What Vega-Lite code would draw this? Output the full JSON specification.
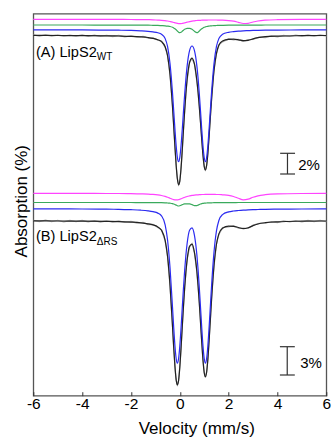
{
"$schema":"https://vega.github.io/schema/vega-lite/v6.json",
"autosize":"none",
"width":293,"height":382,
"padding":{"left":33.3,"top":13.7,"right":6.7,"bottom":42.3},
"background":"white",
"datasets":{
"curves":[
{"p":"A","v":-6,"fit":360.3,"blue":365.9,"green":370.7,"mag":376.4},
{"p":"A","v":-5,"fit":360.2,"blue":365.9,"green":370.7,"mag":376.4},
{"p":"A","v":-4,"fit":360.1,"blue":365.8,"green":370.7,"mag":376.3},
{"p":"A","v":-3,"fit":359.9,"blue":365.6,"green":370.6,"mag":376.3},
{"p":"A","v":-2.5,"fit":359.7,"blue":365.5,"green":370.6,"mag":376.3},
{"p":"A","v":-2,"fit":359.4,"blue":365.3,"green":370.6,"mag":376.2},
{"p":"A","v":-1.6,"fit":358.9,"blue":364.9,"green":370.5,"mag":376.1},
{"p":"A","v":-1.3,"fit":358.2,"blue":364.4,"green":370.5,"mag":376.0},
{"p":"A","v":-1.1,"fit":357.4,"blue":363.8,"green":370.4,"mag":375.9},
{"p":"A","v":-0.9,"fit":356.0,"blue":362.9,"green":370.3,"mag":375.6},
{"p":"A","v":-0.75,"fit":354.1,"blue":361.4,"green":370.1,"mag":375.4},
{"p":"A","v":-0.6,"fit":349.0,"blue":357.1,"green":369.9,"mag":375.0},
{"p":"A","v":-0.5,"fit":339.9,"blue":349.1,"green":369.6,"mag":374.7},
{"p":"A","v":-0.4,"fit":321.1,"blue":332.0,"green":369.2,"mag":374.2},
{"p":"A","v":-0.3,"fit":289.5,"blue":303.1,"green":368.4,"mag":373.6},
{"p":"A","v":-0.25,"fit":269.9,"blue":285.2,"green":367.8,"mag":373.2},
{"p":"A","v":-0.2,"fit":249.5,"blue":266.8,"green":367.0,"mag":372.9},
{"p":"A","v":-0.15,"fit":230.7,"blue":250.2,"green":365.9,"mag":372.6},
{"p":"A","v":-0.1,"fit":216.9,"blue":238.4,"green":364.7,"mag":372.3},
{"p":"A","v":-0.05,"fit":210.9,"blue":234.0,"green":363.5,"mag":372.1},
{"p":"A","v":0,"fit":214.6,"blue":238.1,"green":363.0,"mag":372.0},
{"p":"A","v":0.05,"fit":227.2,"blue":249.7,"green":363.4,"mag":372.1},
{"p":"A","v":0.1,"fit":245.5,"blue":266.0,"green":364.4,"mag":372.3},
{"p":"A","v":0.15,"fit":265.8,"blue":284.1,"green":365.5,"mag":372.5},
{"p":"A","v":0.2,"fit":285.3,"blue":301.6,"green":366.4,"mag":372.9},
{"p":"A","v":0.25,"fit":302.4,"blue":317.1,"green":367.0,"mag":373.2},
{"p":"A","v":0.3,"fit":316.2,"blue":329.6,"green":367.3,"mag":373.5},
{"p":"A","v":0.4,"fit":333.1,"blue":345.1,"green":367.3,"mag":374.1},
{"p":"A","v":0.5,"fit":337.6,"blue":349.7,"green":366.4,"mag":374.6},
{"p":"A","v":0.6,"fit":331.5,"blue":345.1,"green":364.4,"mag":374.9},
{"p":"A","v":0.7,"fit":314.9,"blue":329.6,"green":363.0,"mag":375.2},
{"p":"A","v":0.75,"fit":303.1,"blue":317.1,"green":363.5,"mag":375.3},
{"p":"A","v":0.8,"fit":288.8,"blue":301.6,"green":364.7,"mag":375.4},
{"p":"A","v":0.85,"fit":272.7,"blue":284.1,"green":365.9,"mag":375.4},
{"p":"A","v":0.9,"fit":255.8,"blue":266.0,"green":367.0,"mag":375.5},
{"p":"A","v":0.95,"fit":240.3,"blue":249.7,"green":367.8,"mag":375.5},
{"p":"A","v":1.0,"fit":229.4,"blue":238.1,"green":368.4,"mag":375.6},
{"p":"A","v":1.05,"fit":225.7,"blue":234.0,"green":368.8,"mag":375.6},
{"p":"A","v":1.1,"fit":230.5,"blue":238.4,"green":369.2,"mag":375.6},
{"p":"A","v":1.15,"fit":242.6,"blue":250.2,"green":369.4,"mag":375.7},
{"p":"A","v":1.2,"fit":259.4,"blue":266.8,"green":369.6,"mag":375.7},
{"p":"A","v":1.25,"fit":278.0,"blue":285.2,"green":369.8,"mag":375.7},
{"p":"A","v":1.3,"fit":296.0,"blue":303.1,"green":369.9,"mag":375.7},
{"p":"A","v":1.4,"fit":325.1,"blue":332.0,"green":370.1,"mag":375.7},
{"p":"A","v":1.5,"fit":342.2,"blue":349.1,"green":370.2,"mag":375.7},
{"p":"A","v":1.6,"fit":350.4,"blue":357.1,"green":370.3,"mag":375.6},
{"p":"A","v":1.75,"fit":354.6,"blue":361.4,"green":370.4,"mag":375.5},
{"p":"A","v":2.0,"fit":356.3,"blue":363.4,"green":370.5,"mag":375.1},
{"p":"A","v":2.2,"fit":356.5,"blue":364.1,"green":370.5,"mag":374.5},
{"p":"A","v":2.4,"fit":355.9,"blue":364.6,"green":370.6,"mag":373.4},
{"p":"A","v":2.6,"fit":355.0,"blue":364.9,"green":370.6,"mag":372.2},
{"p":"A","v":2.8,"fit":355.4,"blue":365.1,"green":370.6,"mag":372.4},
{"p":"A","v":3.0,"fit":356.9,"blue":365.3,"green":370.6,"mag":373.7},
{"p":"A","v":3.2,"fit":358.0,"blue":365.4,"green":370.6,"mag":374.7},
{"p":"A","v":3.5,"fit":359.0,"blue":365.5,"green":370.7,"mag":375.5},
{"p":"A","v":4,"fit":359.6,"blue":365.6,"green":370.7,"mag":376.0},
{"p":"A","v":5,"fit":360.0,"blue":365.8,"green":370.7,"mag":376.3},
{"p":"A","v":6,"fit":360.2,"blue":365.9,"green":370.7,"mag":376.3},
{"p":"B","v":-6,"fit":174.8,"blue":186.9,"green":193.2,"mag":202.4},
{"p":"B","v":-5,"fit":174.7,"blue":186.8,"green":193.2,"mag":202.3},
{"p":"B","v":-4,"fit":174.6,"blue":186.7,"green":193.2,"mag":202.3},
{"p":"B","v":-3,"fit":174.3,"blue":186.5,"green":193.2,"mag":202.2},
{"p":"B","v":-2.5,"fit":174.1,"blue":186.4,"green":193.2,"mag":202.2},
{"p":"B","v":-2,"fit":173.6,"blue":186.0,"green":193.2,"mag":202.0},
{"p":"B","v":-1.6,"fit":172.9,"blue":185.5,"green":193.1,"mag":201.8},
{"p":"B","v":-1.3,"fit":171.9,"blue":184.8,"green":193.1,"mag":201.6},
{"p":"B","v":-1.1,"fit":170.8,"blue":184.0,"green":193.1,"mag":201.3},
{"p":"B","v":-0.9,"fit":168.8,"blue":182.6,"green":193.0,"mag":200.8},
{"p":"B","v":-0.75,"fit":165.4,"blue":179.9,"green":193.0,"mag":200.2},
{"p":"B","v":-0.6,"fit":155.4,"blue":170.9,"green":192.9,"mag":199.3},
{"p":"B","v":-0.5,"fit":139.1,"blue":155.5,"green":192.7,"mag":198.5},
{"p":"B","v":-0.4,"fit":110.3,"blue":127.9,"green":192.5,"mag":197.5},
{"p":"B","v":-0.3,"fit":70.0,"blue":89.0,"green":192.1,"mag":196.5},
{"p":"B","v":-0.25,"fit":48.6,"blue":68.4,"green":191.7,"mag":196.1},
{"p":"B","v":-0.2,"fit":29.7,"blue":50.2,"green":191.2,"mag":195.9},
{"p":"B","v":-0.15,"fit":16.1,"blue":37.3,"green":190.6,"mag":195.8},
{"p":"B","v":-0.1,"fit":10.7,"blue":32.5,"green":190.0,"mag":195.8},
{"p":"B","v":-0.05,"fit":15.2,"blue":37.0,"green":189.7,"mag":196.1},
{"p":"B","v":0,"fit":28.4,"blue":49.6,"green":190.0,"mag":196.5},
{"p":"B","v":0.05,"fit":47.3,"blue":67.5,"green":190.5,"mag":196.9},
{"p":"B","v":0.1,"fit":68.6,"blue":87.7,"green":191.1,"mag":197.4},
{"p":"B","v":0.15,"fit":89.5,"blue":107.7,"green":191.5,"mag":197.9},
{"p":"B","v":0.2,"fit":108.2,"blue":125.7,"green":191.8,"mag":198.4},
{"p":"B","v":0.25,"fit":123.8,"blue":140.7,"green":191.9,"mag":198.8},
{"p":"B","v":0.3,"fit":135.7,"blue":152.2,"green":191.9,"mag":199.2},
{"p":"B","v":0.4,"fit":149.4,"blue":165.5,"green":191.8,"mag":199.8},
{"p":"B","v":0.5,"fit":151.6,"blue":167.9,"green":191.1,"mag":200.3},
{"p":"B","v":0.6,"fit":143.3,"blue":160.4,"green":190.0,"mag":200.6},
{"p":"B","v":0.7,"fit":123.9,"blue":140.7,"green":190.0,"mag":200.8},
{"p":"B","v":0.75,"fit":109.6,"blue":125.7,"green":190.6,"mag":200.9},
{"p":"B","v":0.8,"fit":92.3,"blue":107.7,"green":191.2,"mag":201.0},
{"p":"B","v":0.85,"fit":72.9,"blue":87.7,"green":191.7,"mag":201.1},
{"p":"B","v":0.9,"fit":53.1,"blue":67.5,"green":192.1,"mag":201.2},
{"p":"B","v":0.95,"fit":35.5,"blue":49.6,"green":192.3,"mag":201.2},
{"p":"B","v":1.0,"fit":23.1,"blue":37.0,"green":192.5,"mag":201.2},
{"p":"B","v":1.05,"fit":18.8,"blue":32.5,"green":192.6,"mag":201.3},
{"p":"B","v":1.1,"fit":23.7,"blue":37.3,"green":192.7,"mag":201.3},
{"p":"B","v":1.15,"fit":36.7,"blue":50.2,"green":192.8,"mag":201.3},
{"p":"B","v":1.2,"fit":55.0,"blue":68.4,"green":192.9,"mag":201.3},
{"p":"B","v":1.25,"fit":75.6,"blue":89.0,"green":192.9,"mag":201.3},
{"p":"B","v":1.3,"fit":96.1,"blue":109.4,"green":192.9,"mag":201.3},
{"p":"B","v":1.4,"fit":130.0,"blue":143.3,"green":193.0,"mag":201.3},
{"p":"B","v":1.5,"fit":151.2,"blue":164.5,"green":193.0,"mag":201.2},
{"p":"B","v":1.6,"fit":161.8,"blue":175.2,"green":193.1,"mag":201.2},
{"p":"B","v":1.75,"fit":167.5,"blue":181.1,"green":193.1,"mag":200.9},
{"p":"B","v":2.0,"fit":169.5,"blue":183.8,"green":193.1,"mag":200.3},
{"p":"B","v":2.2,"fit":169.4,"blue":184.7,"green":193.1,"mag":199.2},
{"p":"B","v":2.4,"fit":168.2,"blue":185.2,"green":193.2,"mag":197.4},
{"p":"B","v":2.6,"fit":167.0,"blue":185.6,"green":193.2,"mag":195.8},
{"p":"B","v":2.8,"fit":167.9,"blue":185.9,"green":193.2,"mag":196.5},
{"p":"B","v":3.0,"fit":170.1,"blue":186.1,"green":193.2,"mag":198.5},
{"p":"B","v":3.2,"fit":171.7,"blue":186.2,"green":193.2,"mag":199.9},
{"p":"B","v":3.5,"fit":173.0,"blue":186.4,"green":193.2,"mag":201.0},
{"p":"B","v":4,"fit":173.9,"blue":186.6,"green":193.2,"mag":201.8},
{"p":"B","v":5,"fit":174.5,"blue":186.7,"green":193.2,"mag":202.2},
{"p":"B","v":6,"fit":174.7,"blue":186.8,"green":193.2,"mag":202.3}
],
"raw":[
{"p":"A","v":-6,"g":360.9},{"p":"A","v":-5.75,"g":359.6},{"p":"A","v":-5.5,"g":360.8},{"p":"A","v":-5.25,"g":359.7},
{"p":"A","v":-5,"g":360.7},{"p":"A","v":-4.75,"g":359.5},{"p":"A","v":-4.5,"g":360.6},{"p":"A","v":-4.25,"g":359.6},
{"p":"A","v":-4,"g":360.8},{"p":"A","v":-3.75,"g":359.4},{"p":"A","v":-3.5,"g":360.5},{"p":"A","v":-3.25,"g":359.3},
{"p":"A","v":-3,"g":360.4},{"p":"A","v":-2.75,"g":359.2},{"p":"A","v":-2.5,"g":360.2},{"p":"A","v":-2.25,"g":358.9},
{"p":"A","v":-2,"g":359.9},{"p":"A","v":-1.75,"g":358.5},{"p":"A","v":-1.5,"g":359.2},{"p":"A","v":-1.3,"g":357.6},
{"p":"A","v":-1.1,"g":357.9},{"p":"A","v":-0.9,"g":355.5},{"p":"A","v":-0.75,"g":354.6},{"p":"A","v":-0.6,"g":348.6},
{"p":"A","v":-0.5,"g":340.3},{"p":"A","v":-0.4,"g":320.8},{"p":"A","v":-0.3,"g":289.8},{"p":"A","v":-0.25,"g":269.6},
{"p":"A","v":-0.2,"g":249.8},{"p":"A","v":-0.15,"g":230.4},{"p":"A","v":-0.1,"g":217.2},{"p":"A","v":-0.05,"g":211.2},
{"p":"A","v":0,"g":214.3},{"p":"A","v":0.05,"g":227.5},{"p":"A","v":0.1,"g":245.1},{"p":"A","v":0.15,"g":266.2},
{"p":"A","v":0.2,"g":284.9},{"p":"A","v":0.25,"g":302.9},{"p":"A","v":0.3,"g":315.7},{"p":"A","v":0.4,"g":333.6},
{"p":"A","v":0.5,"g":337.0},{"p":"A","v":0.6,"g":332.0},{"p":"A","v":0.7,"g":314.3},{"p":"A","v":0.75,"g":303.6},
{"p":"A","v":0.8,"g":288.4},{"p":"A","v":0.85,"g":273.1},{"p":"A","v":0.9,"g":255.4},{"p":"A","v":0.95,"g":240.7},
{"p":"A","v":1.0,"g":229.1},{"p":"A","v":1.05,"g":226.0},{"p":"A","v":1.1,"g":230.2},{"p":"A","v":1.15,"g":242.9},
{"p":"A","v":1.2,"g":259.1},{"p":"A","v":1.25,"g":278.4},{"p":"A","v":1.3,"g":295.6},{"p":"A","v":1.4,"g":325.6},
{"p":"A","v":1.5,"g":341.7},{"p":"A","v":1.6,"g":350.9},{"p":"A","v":1.75,"g":353.9},{"p":"A","v":2.0,"g":356.9},
{"p":"A","v":2.2,"g":355.8},{"p":"A","v":2.4,"g":356.4},{"p":"A","v":2.6,"g":354.3},{"p":"A","v":2.8,"g":356.0},
{"p":"A","v":3.0,"g":356.3},{"p":"A","v":3.25,"g":358.6},{"p":"A","v":3.5,"g":358.2},{"p":"A","v":3.75,"g":359.9},
{"p":"A","v":4.0,"g":358.9},{"p":"A","v":4.25,"g":360.3},{"p":"A","v":4.5,"g":359.4},{"p":"A","v":4.75,"g":360.6},
{"p":"A","v":5.0,"g":359.5},{"p":"A","v":5.25,"g":360.7},{"p":"A","v":5.5,"g":359.6},{"p":"A","v":5.75,"g":360.8},
{"p":"A","v":6.0,"g":359.7},
{"p":"B","v":-6,"g":175.4},{"p":"B","v":-5.75,"g":174.0},{"p":"B","v":-5.5,"g":175.5},{"p":"B","v":-5.25,"g":174.1},
{"p":"B","v":-5,"g":175.3},{"p":"B","v":-4.75,"g":173.9},{"p":"B","v":-4.5,"g":175.2},{"p":"B","v":-4.25,"g":174.0},
{"p":"B","v":-4,"g":175.2},{"p":"B","v":-3.75,"g":173.8},{"p":"B","v":-3.5,"g":175.0},{"p":"B","v":-3.25,"g":173.7},
{"p":"B","v":-3,"g":174.9},{"p":"B","v":-2.75,"g":173.6},{"p":"B","v":-2.5,"g":174.7},{"p":"B","v":-2.25,"g":173.3},
{"p":"B","v":-2,"g":174.2},{"p":"B","v":-1.75,"g":172.5},{"p":"B","v":-1.5,"g":173.3},{"p":"B","v":-1.3,"g":171.2},
{"p":"B","v":-1.1,"g":171.3},{"p":"B","v":-0.9,"g":168.2},{"p":"B","v":-0.75,"g":165.9},{"p":"B","v":-0.6,"g":155.0},
{"p":"B","v":-0.5,"g":139.5},{"p":"B","v":-0.4,"g":109.9},{"p":"B","v":-0.3,"g":70.4},{"p":"B","v":-0.25,"g":48.3},
{"p":"B","v":-0.2,"g":30.0},{"p":"B","v":-0.15,"g":15.8},{"p":"B","v":-0.1,"g":11.0},{"p":"B","v":-0.05,"g":14.9},
{"p":"B","v":0,"g":28.7},{"p":"B","v":0.05,"g":47.0},{"p":"B","v":0.1,"g":68.9},{"p":"B","v":0.15,"g":89.1},
{"p":"B","v":0.2,"g":108.6},{"p":"B","v":0.25,"g":123.4},{"p":"B","v":0.3,"g":136.2},{"p":"B","v":0.4,"g":148.9},
{"p":"B","v":0.5,"g":152.1},{"p":"B","v":0.6,"g":142.8},{"p":"B","v":0.7,"g":124.3},{"p":"B","v":0.75,"g":109.2},
{"p":"B","v":0.8,"g":92.7},{"p":"B","v":0.85,"g":72.5},{"p":"B","v":0.9,"g":53.5},{"p":"B","v":0.95,"g":35.2},
{"p":"B","v":1.0,"g":23.4},{"p":"B","v":1.05,"g":18.5},{"p":"B","v":1.1,"g":24.0},{"p":"B","v":1.15,"g":36.3},
{"p":"B","v":1.2,"g":55.4},{"p":"B","v":1.25,"g":75.2},{"p":"B","v":1.3,"g":96.5},{"p":"B","v":1.4,"g":129.5},
{"p":"B","v":1.5,"g":151.7},{"p":"B","v":1.6,"g":161.3},{"p":"B","v":1.75,"g":168.1},{"p":"B","v":2.0,"g":168.9},
{"p":"B","v":2.2,"g":170.0},{"p":"B","v":2.4,"g":167.6},{"p":"B","v":2.6,"g":167.5},{"p":"B","v":2.8,"g":167.3},
{"p":"B","v":3.0,"g":170.6},{"p":"B","v":3.25,"g":172.3},{"p":"B","v":3.5,"g":172.6},{"p":"B","v":3.75,"g":174.0},
{"p":"B","v":4.0,"g":173.2},{"p":"B","v":4.25,"g":174.8},{"p":"B","v":4.5,"g":173.9},{"p":"B","v":4.75,"g":175.1},
{"p":"B","v":5.0,"g":173.9},{"p":"B","v":5.25,"g":175.2},{"p":"B","v":5.5,"g":174.0},{"p":"B","v":5.75,"g":175.3},
{"p":"B","v":6.0,"g":174.1}
],
"bars":[
{"x":4.41,"x2":4.41,"y":242.4,"y2":221.7},
{"x":4.11,"x2":4.72,"y":242.4,"y2":242.4},
{"x":4.11,"x2":4.72,"y":221.7,"y2":221.7},
{"x":4.40,"x2":4.40,"y":49.0,"y2":20.7},
{"x":4.10,"x2":4.71,"y":49.0,"y2":49.0},
{"x":4.10,"x2":4.71,"y":20.7,"y2":20.7}
],
"labels":[
{"x":-5.89,"y":339.2,"t":"(A) LipS2","k":"main"},
{"x":-3.40,"y":336.0,"t":"WT","k":"sub"},
{"x":-5.89,"y":155.2,"t":"(B) LipS2","k":"main"},
{"x":-3.40,"y":150.7,"t":"ΔRS","k":"sub"},
{"x":4.85,"y":230.7,"t":"2%","k":"pct"},
{"x":4.93,"y":32.7,"t":"3%","k":"pct"}
]
},
"layer":[
{"data":{"name":"raw"},"mark":{"type":"line","color":"#aaaaaa","strokeWidth":1.3},
 "encoding":{"x":{"field":"v","type":"quantitative","title":"Velocity (mm/s)","scale":{"domain":[-6,6],"nice":false,"zero":false}},
  "y":{"field":"g","type":"quantitative","title":"Absorption (%)","scale":{"domain":[0,382],"nice":false,"zero":false}},
  "detail":{"field":"p"}}},
{"data":{"name":"curves"},"mark":{"type":"line","color":"#222222","strokeWidth":1.2,"interpolate":"monotone"},
 "encoding":{"x":{"field":"v","type":"quantitative","title":"Velocity (mm/s)"},
  "y":{"field":"fit","type":"quantitative","title":"Absorption (%)"},"detail":{"field":"p"}}},
{"data":{"name":"curves"},"mark":{"type":"line","color":"#2b2bf0","strokeWidth":1.2,"interpolate":"monotone"},
 "encoding":{"x":{"field":"v","type":"quantitative","title":"Velocity (mm/s)"},
  "y":{"field":"blue","type":"quantitative","title":"Absorption (%)"},"detail":{"field":"p"}}},
{"data":{"name":"curves"},"mark":{"type":"line","color":"#3aaa5c","strokeWidth":1.2,"interpolate":"monotone"},
 "encoding":{"x":{"field":"v","type":"quantitative","title":"Velocity (mm/s)"},
  "y":{"field":"green","type":"quantitative","title":"Absorption (%)"},"detail":{"field":"p"}}},
{"data":{"name":"curves"},"mark":{"type":"line","color":"#ff44ff","strokeWidth":1.2,"interpolate":"monotone"},
 "encoding":{"x":{"field":"v","type":"quantitative","title":"Velocity (mm/s)"},
  "y":{"field":"mag","type":"quantitative","title":"Absorption (%)"},"detail":{"field":"p"}}},
{"data":{"name":"bars"},"mark":{"type":"rule","color":"#333333","strokeWidth":1.2},
 "encoding":{"x":{"field":"x","type":"quantitative","title":"Velocity (mm/s)"},"x2":{"field":"x2"},
  "y":{"field":"y","type":"quantitative","title":"Absorption (%)"},"y2":{"field":"y2"}}},
{"data":{"name":"labels"},"transform":[{"filter":"datum.k === 'main'"}],
 "mark":{"type":"text","fontSize":14.6,"align":"left","baseline":"alphabetic","color":"#000"},
 "encoding":{"x":{"field":"x","type":"quantitative","title":"Velocity (mm/s)"},"y":{"field":"y","type":"quantitative","title":"Absorption (%)"},"text":{"field":"t"}}},
{"data":{"name":"labels"},"transform":[{"filter":"datum.k === 'sub'"}],
 "mark":{"type":"text","fontSize":10,"align":"left","baseline":"alphabetic","color":"#000"},
 "encoding":{"x":{"field":"x","type":"quantitative","title":"Velocity (mm/s)"},"y":{"field":"y","type":"quantitative","title":"Absorption (%)"},"text":{"field":"t"}}},
{"data":{"name":"labels"},"transform":[{"filter":"datum.k === 'pct'"}],
 "mark":{"type":"text","fontSize":15,"align":"left","baseline":"middle","color":"#000"},
 "encoding":{"x":{"field":"x","type":"quantitative","title":"Velocity (mm/s)"},"y":{"field":"y","type":"quantitative","title":"Absorption (%)"},"text":{"field":"t"}}}
],
"config":{
 "font":"Liberation Sans",
 "view":{"stroke":"#555555","strokeWidth":1.3},
 "axisX":{"domain":false,"grid":false,"tickSize":-4,"tickColor":"#333333","tickWidth":1,"tickCount":7,
   "labelExpr":"'' + datum.value",
   "labelFontSize":15.5,"labelColor":"#000","labelPadding":5,"labelFlush":false,"labelOverlap":false,
   "titleFontSize":17,"titleFontWeight":"normal","titleColor":"#000","titleX":163,"titleY":38,"titleBaseline":"alphabetic"},
 "axisY":{"domain":false,"grid":false,"ticks":false,"labels":false,
   "titleFontSize":17,"titleFontWeight":"normal","titleColor":"#000","titleX":-7,"titleY":187,"titleBaseline":"alphabetic","titleAngle":-90}
}
}
